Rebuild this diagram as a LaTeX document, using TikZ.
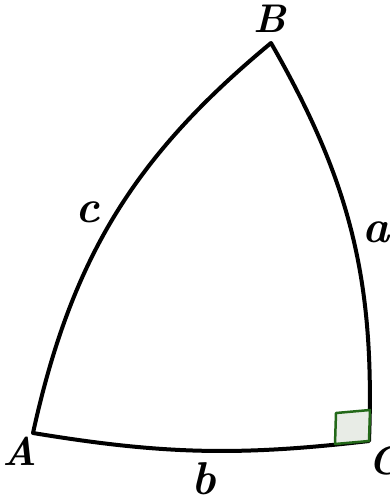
\documentclass[tikz,border=0pt]{standalone}
\usepackage{fontspec}
\usepackage{xcolor}
\usepackage{tikz}
\usetikzlibrary{calc}
\definecolor{rtgreen}{RGB}{35,105,25}
\definecolor{rtfill}{RGB}{232,236,230}
\tikzset{
  vlbl/.style={font=\fontsize{40}{48}\selectfont\bfseries\itshape,inner sep=0pt},
  slbl/.style={vlbl,font=\fontsize{46}{54}\selectfont\bfseries\itshape},
  side/.style={line width=4pt,line join=round},
  rtmark/.style={line width=2.5pt,draw=rtgreen,fill=rtfill,line join=round}
}

\begin{document}
\begin{tikzpicture}[x=1pt,y=-1pt]
  \useasboundingbox (0,0) rectangle (390,495);
  \coordinate (A) at (33,433);
  \coordinate (B) at (271,43);
  \coordinate (C) at (369,441);
  \draw[side] (A) to[bend left=19] (B) to[bend left=16] (C) to[bend left=8] (A) -- cycle;
  \draw[rtmark] (C) -- ++(-34,3) -- ++(1,-31) -- ++(34,-3) -- cycle;
  \node[vlbl] (lA) at (20,451) {A};
  \node[vlbl] (lB) at (270,19) {B};
  \node[vlbl,anchor=west] (lC) at (368,461) {C};
  \node[slbl] (la) at (376,232) {a};
  \node[slbl] (lb) at (204,479) {b};
  \node[slbl] (lc) at (88,212) {c};
\end{tikzpicture}
\end{document}
